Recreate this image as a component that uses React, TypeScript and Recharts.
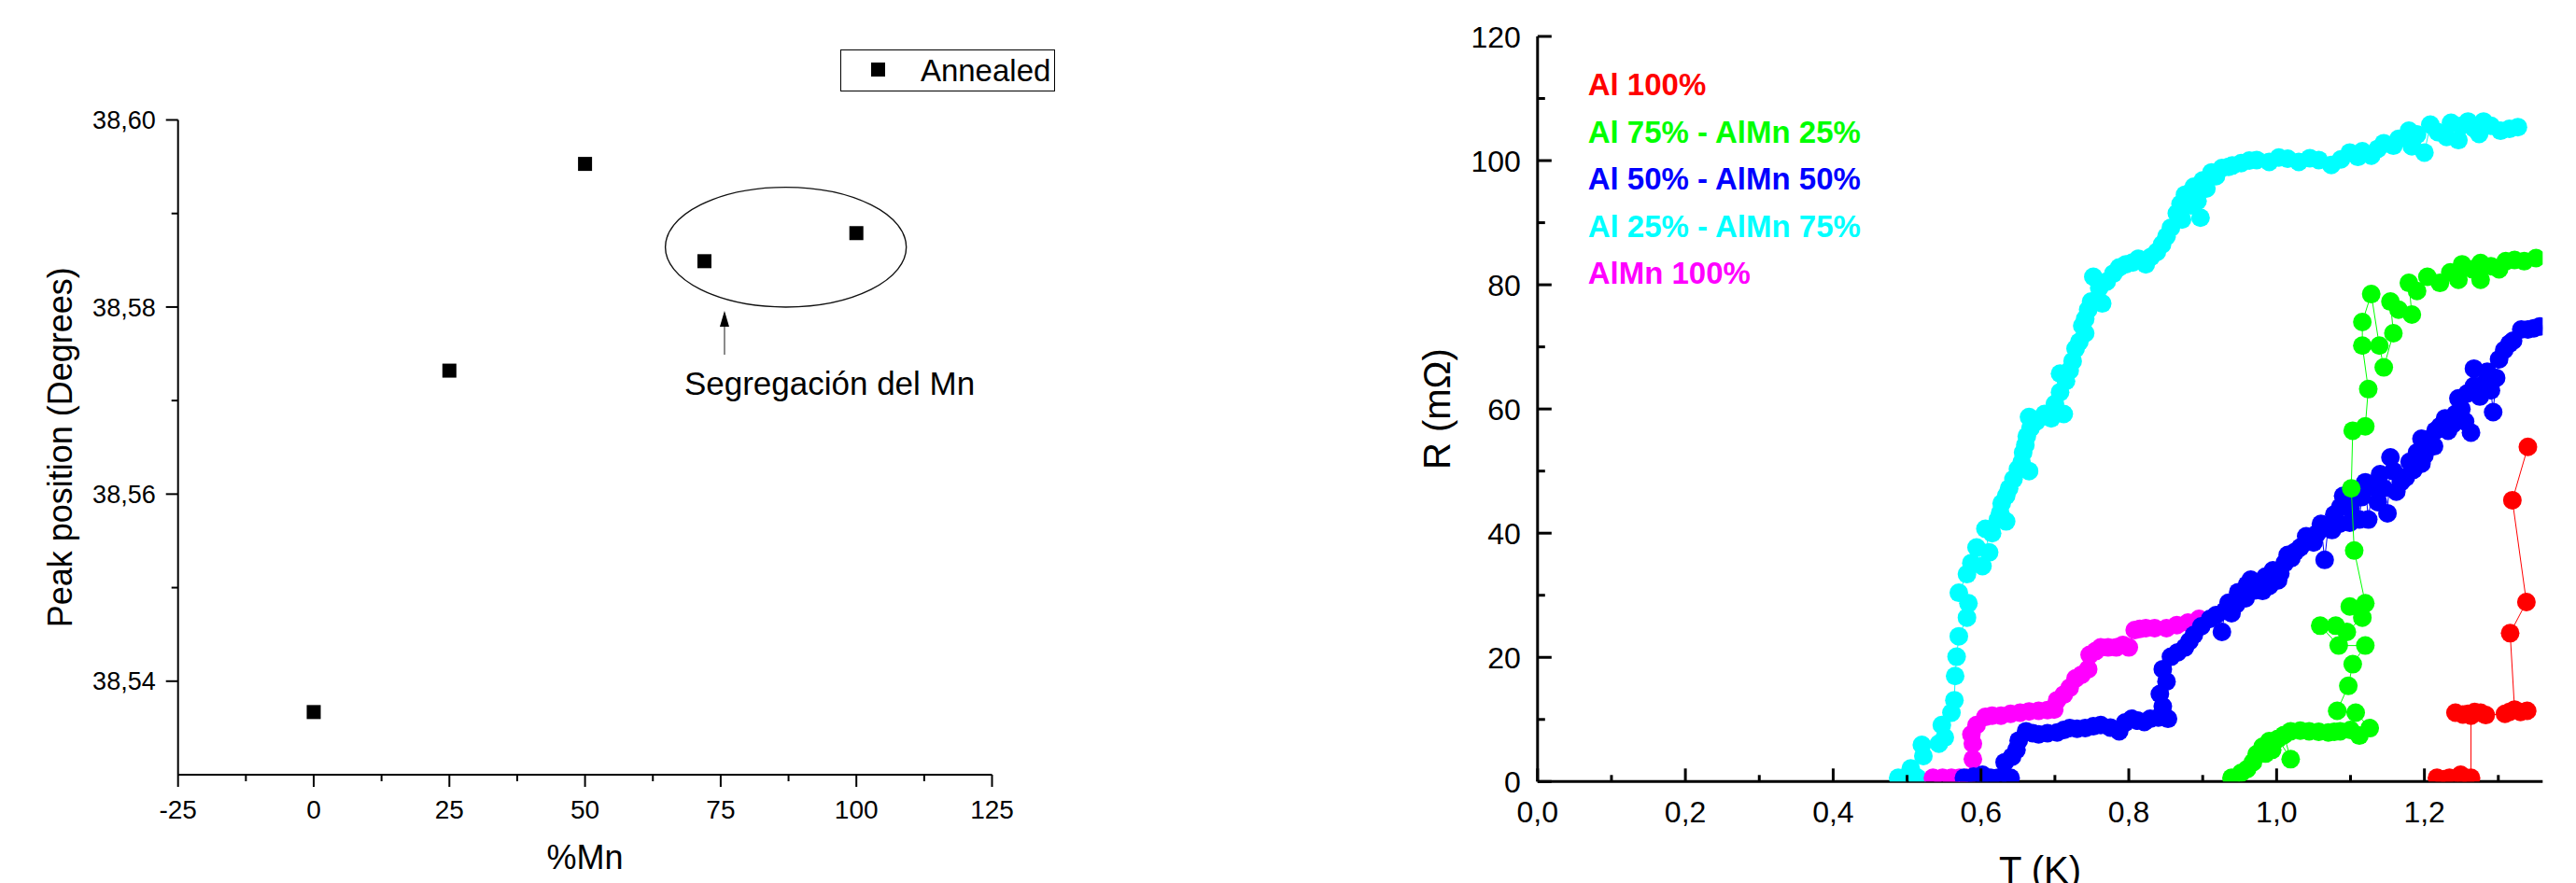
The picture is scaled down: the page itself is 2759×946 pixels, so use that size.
import { Legend, ReferenceArea, ReferenceDot, ReferenceLine, Scatter, ScatterChart, XAxis, YAxis } from 'recharts'

const FONT = '"Liberation Sans", Arial, Helvetica, sans-serif'

// left panel: XRD peak position vs Mn content
const mnContent = [0, 25, 50, 72, 100]
const peakPosition = [38.5367, 38.5732, 38.5953, 38.5849, 38.5879]
const mnTicks = [-25, -12.5, 0, 12.5, 25, 37.5, 50, 62.5, 75, 87.5, 100, 112.5, 125]
const peakTicks = [38.54, 38.55, 38.56, 38.57, 38.58, 38.59, 38.6]

// right panel: R(T) curves
const tTicks = [0, 0.1, 0.2, 0.3, 0.4, 0.5, 0.6, 0.7, 0.8, 0.9, 1.0, 1.1, 1.2, 1.3]
const rTicks = [0, 10, 20, 30, 40, 50, 60, 70, 80, 90, 100, 110, 120]

const al100T = [1.217, 1.227, 1.234, 1.249, 1.256, 1.263, 1.263, 1.242, 1.252, 1.259, 1.268, 1.276, 1.283, 1.309, 1.315, 1.33, 1.339, 1.322, 1.316, 1.338, 1.319, 1.34]
const al100R = [0.6, 0.4, 0.6, 1.1, 0.6, 0.6, 10.6, 11.1, 10.8, 10.9, 11.2, 11.1, 10.7, 10.9, 11.2, 11.2, 11.4, 11.6, 23.9, 28.9, 45.3, 53.9]

const al75T = [0.939, 0.952, 0.96, 0.968, 0.973, 0.981, 0.985, 0.99, 0.994, 1.002, 1.019, 1.01, 1.019, 1.032, 1.044, 1.057, 1.07, 1.078, 1.086, 1.1, 1.112, 1.126, 1.107, 1.082, 1.097, 1.103, 1.12, 1.084, 1.059, 1.08, 1.095, 1.116, 1.099, 1.12, 1.105, 1.101, 1.103, 1.12, 1.124, 1.116, 1.116, 1.128, 1.139, 1.145, 1.158, 1.154, 1.165, 1.183, 1.179, 1.19, 1.204, 1.221, 1.235, 1.246, 1.251, 1.265, 1.276, 1.276, 1.29, 1.301, 1.31, 1.322, 1.335, 1.351]
const al75R = [0.6, 1.4, 2.0, 3.1, 4.4, 5.6, 4.5, 6.5, 5.1, 6.9, 3.6, 7.5, 8.1, 8.2, 8.1, 8.0, 7.9, 8.0, 8.1, 8.3, 7.4, 8.6, 11.1, 11.4, 15.4, 18.9, 21.9, 21.9, 25.1, 25.1, 24.1, 26.4, 28.2, 28.7, 37.2, 47.2, 56.5, 57.2, 63.2, 70.2, 74.0, 78.5, 70.2, 66.7, 72.2, 77.3, 76.0, 75.2, 80.3, 79.0, 81.3, 80.3, 82.0, 80.8, 83.3, 82.5, 80.8, 83.5, 83.0, 82.5, 83.8, 84.0, 83.8, 84.3]

const al50T = [0.577, 0.59, 0.602, 0.613, 0.623, 0.64, 0.632, 0.642, 0.648, 0.651, 0.661, 0.67, 0.678, 0.69, 0.703, 0.712, 0.72, 0.73, 0.741, 0.752, 0.762, 0.775, 0.787, 0.795, 0.804, 0.812, 0.821, 0.829, 0.84, 0.853, 0.846, 0.842, 0.851, 0.846, 0.857, 0.866, 0.876, 0.882, 0.888, 0.898, 0.91, 0.918, 0.926, 0.93, 0.935, 0.939, 0.945, 0.948, 0.952, 0.958, 0.96, 0.965, 0.97, 0.975, 0.981, 0.985, 0.99, 0.995, 1.002, 1.005, 1.011, 1.015, 1.02, 1.025, 1.032, 1.04, 1.044, 1.05, 1.055, 1.06, 1.065, 1.07, 1.075, 1.078, 1.085, 1.09, 1.099, 1.1, 1.086, 1.105, 1.108, 1.112, 1.115, 1.12, 1.124, 1.13, 1.137, 1.14, 1.145, 1.15, 1.154, 1.158, 1.162, 1.168, 1.175, 1.18, 1.185, 1.19, 1.196, 1.2, 1.196, 1.208, 1.213, 1.215, 1.221, 1.228, 1.232, 1.238, 1.242, 1.25, 1.255, 1.263, 1.246, 1.258, 1.267, 1.275, 1.267, 1.28, 1.285, 1.29, 1.293, 1.297, 1.301, 1.308, 1.315, 1.32, 1.331, 1.34, 1.348, 1.356]
const al50R = [0.6, 0.8, 1.1, 0.6, 0.6, 0.6, 3.1, 4.0, 5.1, 6.6, 8.1, 7.8, 7.6, 7.8, 7.9, 8.3, 8.6, 8.5, 8.6, 8.9, 9.1, 8.7, 8.1, 9.5, 10.1, 9.8, 9.6, 10.1, 10.3, 10.1, 12.1, 14.1, 16.1, 18.1, 20.1, 20.8, 21.6, 22.6, 23.6, 25.0, 26.2, 26.8, 24.1, 27.5, 28.8, 27.1, 28.5, 30.5, 29.7, 29.5, 31.7, 32.5, 30.8, 31.5, 30.7, 33.0, 31.5, 34.0, 32.4, 33.5, 35.2, 36.5, 36.0, 37.0, 37.7, 39.5, 38.7, 38.5, 40.0, 41.5, 35.7, 41.2, 40.5, 43.0, 41.5, 46.0, 41.7, 44.0, 44.2, 45.5, 47.0, 42.2, 45.8, 48.2, 42.2, 47.5, 45.0, 49.5, 47.2, 43.2, 52.2, 50.0, 46.7, 48.2, 49.0, 51.5, 50.2, 53.0, 51.2, 52.5, 55.2, 55.2, 54.0, 56.5, 57.2, 58.5, 56.5, 57.5, 59.2, 60.0, 58.0, 56.2, 61.7, 62.5, 63.7, 62.0, 66.5, 64.0, 66.0, 63.0, 59.5, 65.0, 68.0, 69.5, 70.5, 71.0, 72.8, 72.8, 73.0, 73.3]

const al25T = [0.488, 0.514, 0.505, 0.522, 0.52, 0.543, 0.551, 0.547, 0.56, 0.564, 0.565, 0.567, 0.57, 0.581, 0.583, 0.57, 0.581, 0.587, 0.602, 0.594, 0.611, 0.606, 0.615, 0.623, 0.634, 0.626, 0.628, 0.634, 0.638, 0.644, 0.65, 0.665, 0.655, 0.657, 0.66, 0.662, 0.667, 0.665, 0.675, 0.686, 0.695, 0.712, 0.7, 0.707, 0.715, 0.707, 0.72, 0.724, 0.728, 0.733, 0.741, 0.737, 0.741, 0.745, 0.749, 0.764, 0.752, 0.76, 0.77, 0.779, 0.787, 0.796, 0.805, 0.813, 0.823, 0.83, 0.838, 0.845, 0.851, 0.857, 0.865, 0.872, 0.87, 0.884, 0.897, 0.893, 0.876, 0.882, 0.888, 0.9, 0.905, 0.912, 0.918, 0.926, 0.935, 0.94, 0.952, 0.963, 0.973, 0.99, 1.003, 1.015, 1.03, 1.045, 1.057, 1.074, 1.087, 1.099, 1.11, 1.116, 1.128, 1.137, 1.145, 1.158, 1.165, 1.183, 1.179, 1.19, 1.2, 1.208, 1.218, 1.23, 1.236, 1.246, 1.25, 1.259, 1.267, 1.274, 1.28, 1.29, 1.303, 1.315, 1.3265]
const al25R = [0.6, 0.6, 2.1, 4.1, 5.9, 6.1, 7.1, 9.1, 11.1, 13.1, 17.0, 20.1, 23.4, 26.4, 28.7, 30.4, 33.4, 35.2, 34.7, 37.7, 36.9, 40.7, 40.0, 42.2, 41.9, 43.3, 44.8, 46.0, 47.2, 48.7, 50.3, 50.0, 51.4, 53.0, 54.2, 55.6, 56.9, 58.7, 58.0, 59.2, 58.5, 59.2, 60.8, 62.7, 64.5, 65.7, 66.2, 67.7, 69.7, 70.8, 72.2, 73.4, 74.5, 76.0, 77.3, 77.0, 81.3, 79.5, 80.5, 81.8, 82.8, 83.3, 83.6, 84.2, 83.3, 84.5, 85.3, 86.5, 87.8, 89.2, 91.5, 90.5, 93.0, 92.8, 90.8, 93.5, 94.5, 94.8, 95.8, 96.8, 95.5, 98.1, 97.5, 98.8, 99.0, 99.2, 99.6, 100.0, 100.1, 99.8, 100.5, 100.3, 99.8, 100.4, 100.1, 99.3, 100.2, 101.3, 100.6, 101.5, 100.8, 101.9, 102.8, 102.4, 103.5, 102.3, 104.8, 104.2, 101.3, 105.8, 104.6, 103.8, 106.1, 103.3, 105.6, 106.3, 105.2, 104.3, 106.3, 105.6, 104.8, 105.1, 105.4]

const alMn100T = [0.535, 0.548, 0.56, 0.571, 0.581, 0.589, 0.589, 0.587, 0.594, 0.606, 0.615, 0.627, 0.64, 0.653, 0.665, 0.678, 0.69, 0.699, 0.703, 0.712, 0.72, 0.728, 0.736, 0.745, 0.747, 0.755, 0.762, 0.772, 0.783, 0.792, 0.8, 0.808, 0.815, 0.823, 0.835, 0.851, 0.865, 0.88, 0.895]
const alMn100R = [0.6, 0.6, 0.6, 0.6, 0.6, 3.6, 6.1, 7.6, 9.1, 10.4, 10.6, 10.6, 10.9, 11.1, 11.3, 11.4, 11.5, 11.6, 13.1, 14.0, 15.1, 16.6, 17.2, 18.1, 20.4, 21.0, 21.6, 21.6, 21.6, 22.0, 21.6, 24.4, 24.6, 24.7, 24.7, 24.7, 25.2, 25.6, 26.2]

const toPoints = (t: number[], r: number[]) => t.map((v, i) => ({ t: v, r: r[i] }))

const curves = [
  { name: 'Al 100%', color: '#ff0000', data: toPoints(al100T, al100R) },
  { name: 'Al 75% - AlMn 25%', color: '#00ff00', data: toPoints(al75T, al75R) },
  { name: 'Al 50% - AlMn 50%', color: '#0000ff', data: toPoints(al50T, al50R) },
  { name: 'Al 25% - AlMn 75%', color: '#00ffff', data: toPoints(al25T, al25R) },
  { name: 'AlMn 100%', color: '#ff00ff', data: toPoints(alMn100T, alMn100R) },
]
// draw order so that the blue/green bands sit on top like in the original
const drawOrder = ['Al 100%', 'Al 25% - AlMn 75%', 'AlMn 100%', 'Al 50% - AlMn 50%', 'Al 75% - AlMn 25%']

const peakData = mnContent.map((x, i) => ({ x, y: peakPosition[i] }))

function MnTick({ x, y, payload }: any) {
  const major = payload.value % 25 === 0
  return (
    <g>
      <line x1={x} y1={y} x2={x} y2={y + (major ? 13 : 7)} stroke="#000" strokeWidth={2} />
      {major && (
        <text x={x} y={y + 47} textAnchor="middle" fontSize={28} fontFamily={FONT} fill="#000">
          {payload.value}
        </text>
      )}
    </g>
  )
}

function PeakTick({ x, y, payload }: any) {
  const major = Math.round(payload.value * 100) % 2 === 0
  return (
    <g>
      <line x1={x} y1={y} x2={x - (major ? 13 : 7)} y2={y} stroke="#000" strokeWidth={2} />
      {major && (
        <text x={x - 24} y={y + 9.7} textAnchor="end" fontSize={27} fontFamily={FONT} fill="#000">
          {payload.value.toFixed(2).replace('.', ',')}
        </text>
      )}
    </g>
  )
}

function makeTTick(side: 'bottom' | 'top') {
  return ({ x, y, payload }: any) => {
    const major = Math.round(payload.value * 10) % 2 === 0
    const len = major ? 14 : 7
    const dir = side === 'bottom' ? -1 : 1
    return (
      <g>
        <line x1={x} y1={y} x2={x} y2={y + dir * len} stroke="#000" strokeWidth={3} />
        {major && side === 'bottom' && (
          <text x={x} y={y + 44} textAnchor="middle" fontSize={32} fontFamily={FONT} fill="#000">
            {payload.value.toFixed(1).replace('.', ',')}
          </text>
        )}
      </g>
    )
  }
}

function makeRTick(side: 'left' | 'right') {
  return ({ x, y, payload }: any) => {
    const major = payload.value % 20 === 0
    const len = major ? 15 : 8
    const dir = side === 'left' ? 1 : -1
    return (
      <g>
        <line x1={x} y1={y} x2={x + dir * len} y2={y} stroke="#000" strokeWidth={3} />
        {major && side === 'left' && (
          <text x={x - 18} y={y + 11.5} textAnchor="end" fontSize={32} fontFamily={FONT} fill="#000">
            {payload.value}
          </text>
        )}
      </g>
    )
  }
}

function PeakChart() {
  return (
    <ScatterChart width={1150} height={946} margin={{ top: 128.5, right: 87.5, bottom: 56, left: 90.7 }}>
      <XAxis
        type="number"
        dataKey="x"
        domain={[-25, 125]}
        ticks={mnTicks}
        interval={0}
        height={60}
        tickSize={0}
        tickMargin={0}
        tickLine={false}
        axisLine={{ stroke: '#000', strokeWidth: 2 }}
        tick={(p: any) => <MnTick {...p} />}
        label={{ value: '%Mn', position: 'insideBottom', offset: -41, fontSize: 36, fill: '#000', fontFamily: FONT }}
      />
      <YAxis
        type="number"
        dataKey="y"
        domain={[38.53, 38.6]}
        allowDataOverflow
        ticks={peakTicks}
        interval={0}
        width={100}
        tickSize={0}
        tickMargin={0}
        tickLine={false}
        axisLine={{ stroke: '#000', strokeWidth: 2 }}
        tick={(p: any) => <PeakTick {...p} />}
        label={{
          value: 'Peak position  (Degrees)',
          position: 'insideLeft',
          angle: -90,
          offset: -26.7,
          fontSize: 36,
          fill: '#000',
          fontFamily: FONT,
          style: { textAnchor: 'middle' },
        }}
      />
      <ReferenceArea
        x1={64.8}
        x2={109.2}
        y1={38.58}
        y2={38.5928}
        shape={(p: any) => (
          <ellipse
            cx={p.x + p.width / 2}
            cy={p.y + p.height / 2}
            rx={p.width / 2}
            ry={p.height / 2}
            fill="none"
            stroke="#111"
            strokeWidth={1.4}
          />
        )}
      />
      <ReferenceLine
        segment={[
          { x: 75.7, y: 38.5749 },
          { x: 75.7, y: 38.5796 },
        ]}
        shape={(p: any) => {
          const top = Math.min(p.y1, p.y2)
          const bottom = Math.max(p.y1, p.y2)
          return (
            <g>
              <line x1={p.x1} y1={bottom} x2={p.x1} y2={top + 14} stroke="#6e6e6e" strokeWidth={1.6} />
              <polygon points={`${p.x1},${top} ${p.x1 - 5},${top + 17} ${p.x1 + 5},${top + 17}`} fill="#000" />
            </g>
          )
        }}
      />
      <ReferenceDot
        x={95.07}
        y={38.5706}
        r={1}
        shape={(p: any) => (
          <text x={p.cx} y={p.cy} textAnchor="middle" fontSize={35} fontFamily={FONT} fill="#000">
            Segregación del Mn
          </text>
        )}
      />
      <Scatter
        name="Annealed"
        data={peakData}
        fill="#000"
        isAnimationActive={false}
        shape={(p: any) => <rect x={p.cx - 7.5} y={p.cy - 7.5} width={15} height={15} fill="#000" />}
      />
      <Legend
        layout="horizontal"
        verticalAlign="middle"
        align="center"
        wrapperStyle={{ left: 900, top: 52.5, width: 229.5, height: 45.3 }}
        content={() => (
          <div
            style={{
              position: 'relative',
              width: 229.5,
              height: 45.3,
              border: '1.5px solid #000',
              boxSizing: 'border-box',
              fontFamily: FONT,
            }}
          >
            <div style={{ position: 'absolute', left: 32.1, top: 13.5, width: 15, height: 15, background: '#000' }} />
            <div style={{ position: 'absolute', left: 84.9, top: 3.5, fontSize: 33, lineHeight: '37px', color: '#000', whiteSpace: 'nowrap' }}>
              Annealed
            </div>
          </div>
        )}
      />
    </ScatterChart>
  )
}

function ResistanceChart() {
  const ordered = drawOrder.map((n) => curves.find((c) => c.name === n)!)
  return (
    <ScatterChart width={1279} height={946} margin={{ top: 39, right: 35.7, bottom: 48.7, left: 66.8 }}>
      <XAxis
        type="number"
        dataKey="t"
        domain={[0, 1.36]}
        allowDataOverflow
        ticks={tTicks}
        interval={0}
        height={60}
        tickSize={0}
        tickMargin={0}
        tickLine={false}
        axisLine={{ stroke: '#000', strokeWidth: 3 }}
        tick={makeTTick('bottom')}
        label={{ value: 'T (K)', position: 'insideBottom', offset: -48.7, fontSize: 40, fill: '#000', fontFamily: FONT }}
      />
      <XAxis
        xAxisId="top"
        orientation="top"
        type="number"
        dataKey="t"
        domain={[0, 1.36]}
        allowDataOverflow
        ticks={tTicks}
        interval={0}
        height={0}
        tickSize={0}
        tickMargin={0}
        tickLine={false}
        axisLine={{ stroke: '#000', strokeWidth: 3 }}
        tick={makeTTick('top')}
      />
      <YAxis
        type="number"
        dataKey="r"
        domain={[0, 120]}
        allowDataOverflow
        ticks={rTicks}
        interval={0}
        width={100}
        tickSize={0}
        tickMargin={0}
        tickLine={false}
        axisLine={{ stroke: '#000', strokeWidth: 3 }}
        tick={makeRTick('left')}
        label={{
          value: 'R (mΩ)',
          position: 'insideLeft',
          angle: -90,
          offset: -7.5,
          fontSize: 40,
          fill: '#000',
          fontFamily: FONT,
          style: { textAnchor: 'middle' },
        }}
      />
      <YAxis
        yAxisId="right"
        orientation="right"
        type="number"
        dataKey="r"
        domain={[0, 120]}
        allowDataOverflow
        ticks={rTicks}
        interval={0}
        width={0}
        tickSize={0}
        tickMargin={0}
        tickLine={false}
        axisLine={{ stroke: '#000', strokeWidth: 3 }}
        tick={makeRTick('right')}
      />
      {ordered.map((c) => (
        <Scatter
          key={c.name}
          name={c.name}
          data={c.data}
          fill={c.color}
          line={{ stroke: c.color, strokeWidth: 1 }}
          lineType="joint"
          isAnimationActive={false}
          shape={(p: any) => <circle cx={p.cx} cy={p.cy} r={10} fill={c.color} />}
        />
      ))}
      <Legend
        layout="horizontal"
        verticalAlign="middle"
        align="center"
        wrapperStyle={{ left: 220.7, top: 66.3, width: 400, height: 260 }}
        content={() => (
          <div style={{ fontFamily: FONT }}>
            {curves.map((c) => (
              <div key={c.name} style={{ color: c.color, fontWeight: 700, fontSize: 33, lineHeight: '50.5px', whiteSpace: 'nowrap' }}>
                {c.name}
              </div>
            ))}
          </div>
        )}
      />
    </ScatterChart>
  )
}

export default function App() {
  return (
    <div style={{ position: 'absolute', left: 0, top: 0, width: 2759, height: 946, background: '#fff', fontFamily: FONT }}>
      <div style={{ position: 'absolute', left: 0, top: 0 }}>
        <PeakChart />
      </div>
      <div style={{ position: 'absolute', left: 1480, top: 0 }}>
        <ResistanceChart />
      </div>
    </div>
  )
}
